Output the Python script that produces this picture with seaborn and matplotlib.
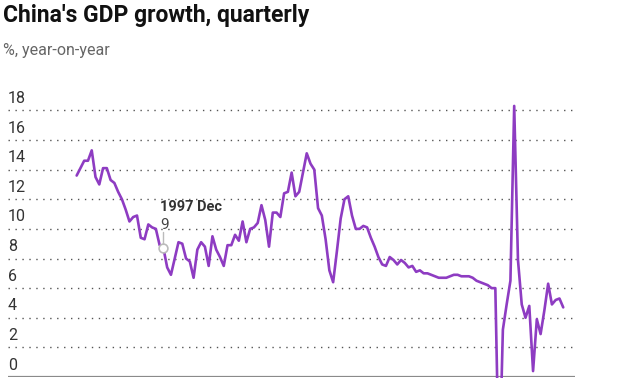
import numpy as np
import pandas as pd
import matplotlib
matplotlib.use('Agg')
import matplotlib.pyplot as plt
import seaborn as sns

# Quarterly year-on-year GDP growth, 1992 Q1 - 2024 Q2 (%)
start_year = 1992
growth = [
    13.6, 14.1, 14.6, 14.6,   # 1992
    15.3, 13.5, 13.0, 14.1,   # 1993
    14.1, 13.3, 13.1, 12.5,   # 1994
    12.0, 11.3, 10.5, 10.8,   # 1995
    10.9, 9.4, 9.3, 10.3,     # 1996
    10.1, 10.0, 8.9, 8.7,     # 1997
    7.4, 6.9, 8.0, 9.1,       # 1998
    9.0, 8.0, 7.8, 6.7,       # 1999
    8.6, 9.1, 8.8, 7.5,       # 2000
    9.5, 8.6, 8.1, 7.5,       # 2001
    8.9, 8.9, 9.6, 9.2,       # 2002
    10.5, 9.1, 10.0, 10.1,    # 2003
    10.4, 11.6, 10.6, 8.8,    # 2004
    11.1, 11.1, 10.8, 12.4,   # 2005
    12.5, 13.8, 12.2, 12.5,   # 2006
    13.8, 15.1, 14.4, 14.0,   # 2007
    11.4, 10.9, 9.3, 7.2,     # 2008
    6.4, 8.5, 10.7, 12.0,     # 2009
    12.2, 10.9, 10.0, 10.0,   # 2010
    10.2, 10.1, 9.4, 8.8,     # 2011
    8.1, 7.6, 7.5, 8.1,       # 2012
    7.9, 7.6, 7.9, 7.7,       # 2013
    7.4, 7.5, 7.1, 7.2,       # 2014
    7.0, 7.0, 6.9, 6.8,       # 2015
    6.7, 6.7, 6.7, 6.8,       # 2016
    6.9, 6.9, 6.8, 6.8,       # 2017
    6.8, 6.7, 6.5, 6.4,       # 2018
    6.3, 6.2, 6.0, 6.0,       # 2019
    -6.8, 3.2, 4.9, 6.5,      # 2020
    18.3, 7.9, 4.9, 4.0,      # 2021
    4.8, 0.4, 3.9, 2.9,       # 2022
    4.5, 6.3, 4.9, 5.2,       # 2023
    5.3, 4.7,                 # 2024
]
y_ticks = [0, 2, 4, 6, 8, 10, 12, 14, 16, 18]
note_label = '1997 Dec'
note_quarter = (1997, 4)

quarter_pos = [start_year + i / 4 for i in range(len(growth))]
df = pd.DataFrame({'date': quarter_pos, 'growth': growth})

sns.set_style('white')
plt.rcParams['font.family'] = ['Roboto', 'DejaVu Sans']

fig = plt.figure(figsize=(6.3, 3.78), dpi=100)
ax = fig.add_axes([0.0127, 0.0026, 0.900, 0.725])

sns.lineplot(data=df, x='date', y='growth', ax=ax, color='#8e3cc2',
             linewidth=1.9, clip_on=False, zorder=3)

ax.set_xlim(1987.45, 2025.03)
ax.set_ylim(0, 18.5)

# dotted gridlines with labels sitting above them
for t in y_ticks:
    if t == 0:
        ax.axhline(0, color='#8a8a8a', linewidth=1.6, zorder=2)
    else:
        ax.axhline(t, color='#555555', linewidth=1.0, linestyle=(0, (1, 4)), zorder=1)
    ax.text(0.0, t + 0.3, str(t), transform=ax.get_yaxis_transform(),
            ha='left', va='bottom', fontsize=11.5, color='#333333')

# annotation for 1997 Dec
nx = note_quarter[0] + (note_quarter[1] - 1) / 4
ny = df.loc[df['date'] == nx, 'growth'].iloc[0]
ax.scatter([nx], [ny], s=40, facecolor='white', edgecolor='#bbbbbb',
           linewidth=1.2, zorder=4)
ax.plot([nx, nx], [ny + 0.3, ny + 1.1], color='#bbbbbb', linewidth=1, zorder=4)
ax.text(nx - 0.2, ny + 1.1, f'{round(ny):g}', ha='left', va='bottom',
        fontsize=11, color='#444444')
ax.text(nx - 0.2, ny + 2.3, note_label, ha='left', va='bottom',
        fontsize=10.5, fontweight='bold', color='#333333')

ax.set_xlabel('')
ax.set_ylabel('')
ax.set_xticks([])
ax.set_yticks([])
sns.despine(ax=ax, left=True, bottom=True)

fig.text(0.005, 0.960, "China's GDP growth, quarterly", fontsize=16.5,
         fontweight='bold', color='#111111', ha='left', va='center')
fig.text(0.005, 0.866, '%, year-on-year', fontsize=11.5, color='#666666',
         ha='left', va='center')

fig.savefig('out.png', dpi=100, facecolor='white')
